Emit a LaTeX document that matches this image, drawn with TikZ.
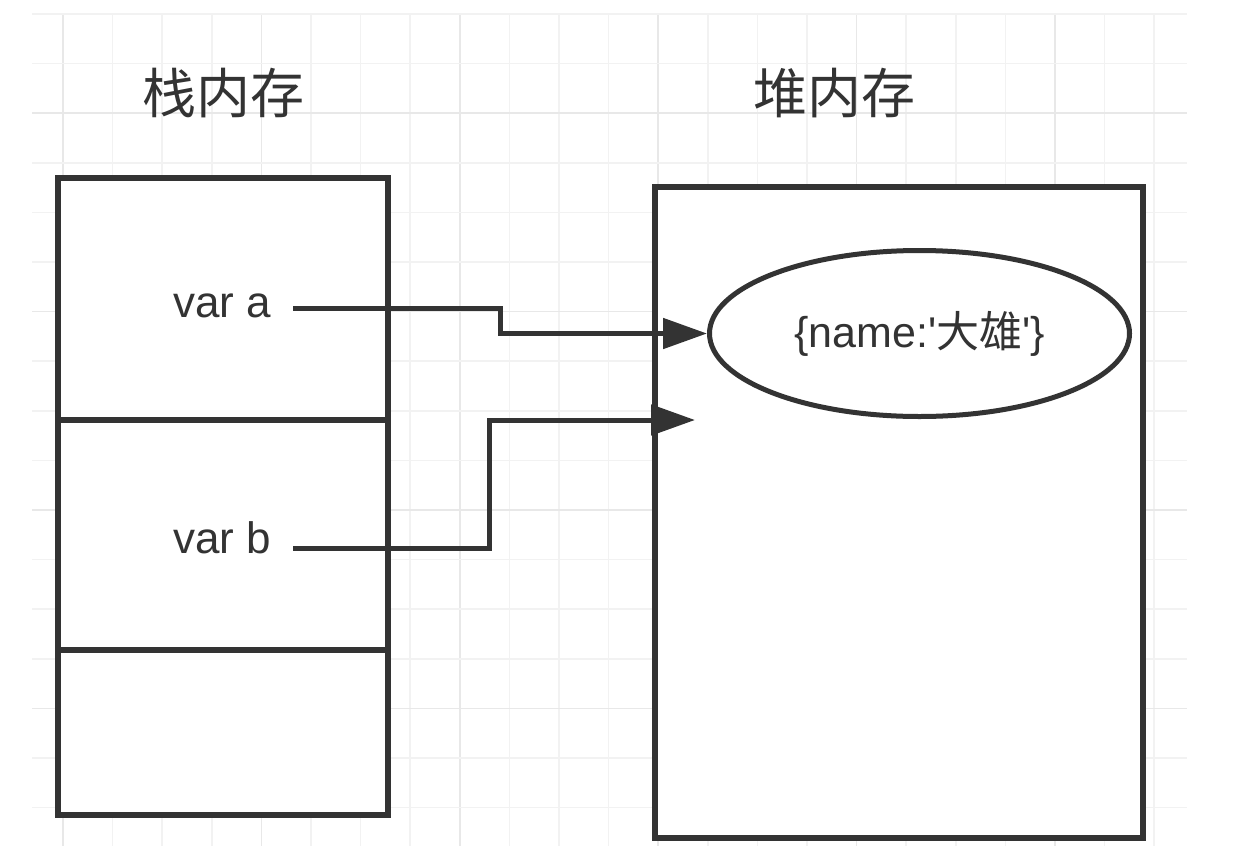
\documentclass[tikz,border=0pt]{standalone}
\usepackage{fontspec}
\setmainfont{Liberation Sans}
\newfontfamily\cjk{Noto Sans CJK SC}
\usetikzlibrary{shapes.geometric,arrows.meta}
\definecolor{ink}{HTML}{333333}
\definecolor{gridminor}{HTML}{F2F2F2}
\definecolor{gridmajor}{HTML}{E8E8E8}
\tikzset{
  box/.style={draw=ink, line width=6pt, fill=white, inner sep=0pt, rectangle},
  title/.style={text=ink, font=\cjk\fontsize{54}{60}\selectfont, inner sep=0pt},
  vlabel/.style={text=ink, font=\fontsize{44}{50}\selectfont, inner sep=0pt, anchor=base},
  conn/.style={draw=ink, line width=5pt, -{Triangle[length=44pt,width=30pt]}},
}
\begin{document}
\begin{tikzpicture}[x=1pt,y=-1pt]
\useasboundingbox (0,0) rectangle (1246,846);
\fill[white] (0,0) rectangle (1246,846);
% grid
\foreach \k in {0,...,22}{
  \pgfmathtruncatemacro{\m}{mod(\k,4)}
  \ifnum\m=0 \def\gc{gridmajor}\else\def\gc{gridminor}\fi
  \draw[\gc, line width=1.5pt] ({63+49.6*\k},14) -- ({63+49.6*\k},846);
}
\foreach \k in {0,...,16}{
  \pgfmathtruncatemacro{\m}{mod(\k,4)}
  \ifnum\m=2 \def\gc{gridmajor}\else\def\gc{gridminor}\fi
  \draw[\gc, line width=1.5pt] (32,{14+49.6*\k}) -- (1187,{14+49.6*\k});
}
% titles
\node[title] (tstack) at (223,93) {栈内存};
\node[title] (theap) at (834,93) {堆内存};
% stack cells
\node[box, minimum width=330pt, minimum height=242pt] (s1) at (223,299) {};
\node[box, minimum width=330pt, minimum height=230pt] (s2) at (223,535) {};
\node[box, minimum width=330pt, minimum height=165pt] (s3) at (223,732.5) {};
% heap
\node[box, minimum width=488pt, minimum height=651pt] (heap) at (899,512.5) {};
\node[draw=ink, line width=5pt, fill=white, ellipse, inner sep=0pt,
      minimum width=420pt, minimum height=166pt] (obj) at (919.5,333.5) {};
\node[text=ink, font=\fontsize{43}{50}\selectfont, inner sep=0pt] (objt) at (919.5,334)
  {\{name:\textquotesingle{\cjk 大雄}\textquotesingle\}};
% labels
\node[vlabel] (va) at (222,317) {var a};
\node[vlabel] (vb) at (222,553) {var b};
% connectors
\coordinate (pa) at (293,308);
\coordinate (pb) at (293,548);
\coordinate (tb) at (695,420);
\draw[conn] (pa) -- (500,308) |- (obj.west);
\draw[conn] (pb) -- (489,548) |- (tb);
\end{tikzpicture}
\end{document}
